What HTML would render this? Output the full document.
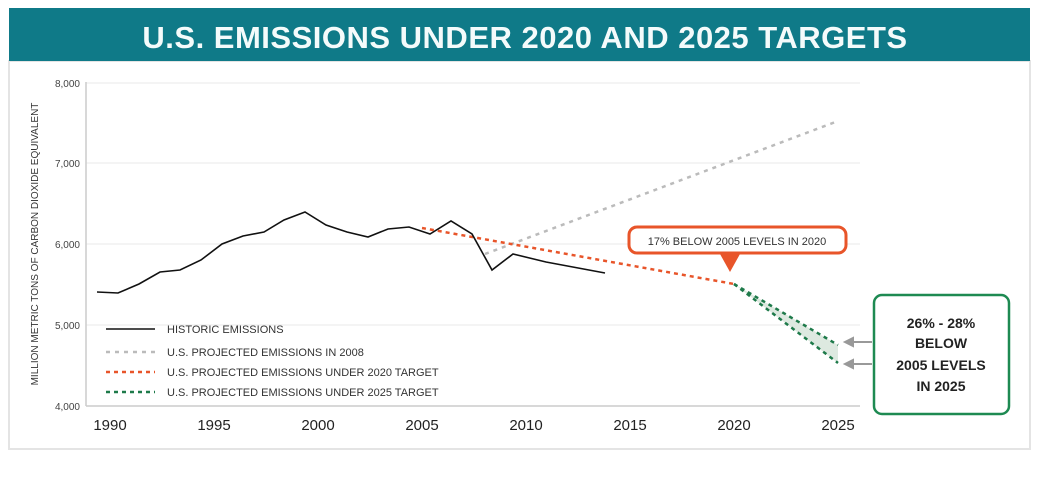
<!DOCTYPE html>
<html><head><meta charset="utf-8"><style>
body{margin:0;background:#fff;}
svg{display:block;font-family:"Liberation Sans",sans-serif;}
</style></head><body>
<svg width="1050" height="488" viewBox="0 0 1050 488">
<rect x="0" y="0" width="1050" height="488" fill="#fff"/>
<rect x="9" y="61" width="1021" height="388" fill="#fff" stroke="#e4e4e4" stroke-width="2"/>
<rect x="9" y="8" width="1021" height="53" fill="#0f7a88"/>
<text x="525" y="48" text-anchor="middle" font-size="31" font-weight="bold" fill="#f4fbfb" letter-spacing="0.5">U.S. EMISSIONS UNDER 2020 AND 2025 TARGETS</text>
<g stroke="#f0f0f0" stroke-width="1.5">
<line x1="86" y1="83" x2="860" y2="83"/><line x1="86" y1="163" x2="860" y2="163"/>
<line x1="86" y1="244" x2="860" y2="244"/><line x1="86" y1="325" x2="860" y2="325"/>
</g>
<line x1="86" y1="82" x2="86" y2="406" stroke="#ccc" stroke-width="1.5"/>
<line x1="86" y1="406" x2="860" y2="406" stroke="#ccc" stroke-width="1.5"/>
<g font-size="10" fill="#444" text-anchor="end">
<text x="80" y="87">8,000</text><text x="80" y="167">7,000</text><text x="80" y="248">6,000</text><text x="80" y="329">5,000</text><text x="80" y="410">4,000</text>
</g>
<text transform="translate(38,244) rotate(-90)" text-anchor="middle" font-size="10" fill="#333">MILLION METRIC TONS OF CARBON DIOXIDE EQUIVALENT</text>
<g font-size="15" fill="#222" text-anchor="middle">
<text x="110" y="430">1990</text><text x="214" y="430">1995</text><text x="318" y="430">2000</text><text x="422" y="430">2005</text><text x="526" y="430">2010</text><text x="630" y="430">2015</text><text x="734" y="430">2020</text><text x="838" y="430">2025</text>
</g>
<polyline fill="none" stroke="#bbb" stroke-width="2.5" stroke-dasharray="4,5" points="485,254 838,121"/>
<polyline fill="none" stroke="#e8552a" stroke-width="2.5" stroke-dasharray="4,4" points="422,228 734,284"/>
<polygon points="734,284 838,345 838,363" fill="#dde9e0"/>
<polyline fill="none" stroke="#1e7a4a" stroke-width="2.5" stroke-dasharray="4,4" points="734,284 838,345"/>
<polyline fill="none" stroke="#1e7a4a" stroke-width="2.5" stroke-dasharray="4,4" points="734,284 838,363"/>
<polyline fill="none" stroke="#111" stroke-width="1.6" points="97,292 118,293 139,284 160,272 180,270 201,260 222,244 243,236 264,232 284,220 305,212 326,225 347,232 368,237 388,229 409,227 430,234 451,221 472,234 492,270 513,254 546,262 605,273"/>
<rect x="629" y="227" width="217" height="26" rx="8" fill="#fff" stroke="#e8552a" stroke-width="3"/>
<polygon points="720,254 740,254 730,272" fill="#e8552a"/>
<text x="737" y="245" text-anchor="middle" font-size="11" fill="#333">17% BELOW 2005 LEVELS IN 2020</text>
<rect x="874" y="295" width="135" height="119" rx="8" fill="#fff" stroke="#1e8a52" stroke-width="2.5"/>
<g font-size="14" font-weight="bold" fill="#222" text-anchor="middle">
<text x="941" y="328">26% - 28%</text><text x="941" y="348">BELOW</text><text x="941" y="370">2005 LEVELS</text><text x="941" y="391">IN 2025</text>
</g>
<g stroke="#999" stroke-width="2" fill="#999">
<line x1="850" y1="342" x2="872" y2="342"/><polygon points="845,342 853,338 853,346"/>
<line x1="850" y1="364" x2="872" y2="364"/><polygon points="845,364 853,360 853,368"/>
</g>
<line x1="106" y1="329" x2="155" y2="329" stroke="#111" stroke-width="1.6"/>
<line x1="106" y1="352" x2="155" y2="352" stroke="#bbb" stroke-width="2.5" stroke-dasharray="4,5"/>
<line x1="106" y1="372" x2="155" y2="372" stroke="#e8552a" stroke-width="2.5" stroke-dasharray="4,4"/>
<line x1="106" y1="392" x2="155" y2="392" stroke="#1e7a4a" stroke-width="2.5" stroke-dasharray="4,4"/>
<g font-size="11" fill="#333">
<text x="167" y="333">HISTORIC EMISSIONS</text>
<text x="167" y="356">U.S. PROJECTED EMISSIONS IN 2008</text>
<text x="167" y="376">U.S. PROJECTED EMISSIONS UNDER 2020 TARGET</text>
<text x="167" y="396">U.S. PROJECTED EMISSIONS UNDER 2025 TARGET</text>
</g>
</svg>
</body></html>
